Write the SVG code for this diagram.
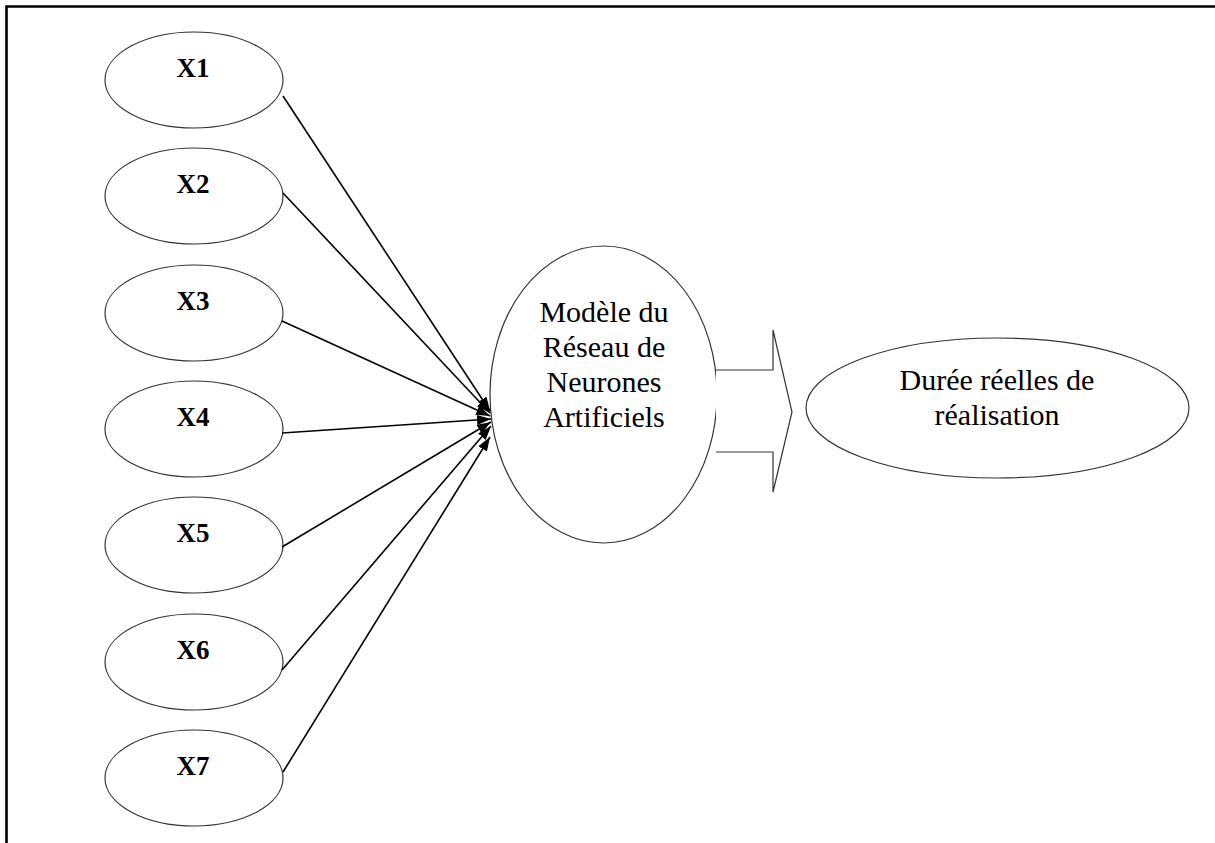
<svg xmlns="http://www.w3.org/2000/svg" width="1215" height="843" viewBox="0 0 1215 843">
<style>
.e{fill:#fff;stroke:#333;stroke-width:1.2}
.xl{font-family:"Liberation Serif","Times New Roman",Times,serif;font-weight:bold;font-size:27px;text-anchor:middle;fill:#000}
.t{font-family:"Liberation Serif","Times New Roman",Times,serif;font-weight:normal;font-size:30px;text-anchor:middle;fill:#000}
.c{stroke:#000;stroke-width:1.6;fill:none;marker-end:url(#ah)}
</style>
<defs>
<marker id="ah" viewBox="0 0 10 10" refX="10" refY="5" markerWidth="14" markerHeight="10" markerUnits="userSpaceOnUse" orient="auto" preserveAspectRatio="none">
<path d="M0,0 L10,5 L0,10 Z" fill="#000"/>
</marker>
</defs>
<rect width="1215" height="843" fill="#fff"/>
<path d="M6.5,843 V6.5 H1215" fill="none" stroke="#000" stroke-width="2.6"/>
<g id="X1"><ellipse class="e" cx="194" cy="80" rx="89" ry="48"/><text class="xl" x="193" y="77">X1</text></g>
<g id="X2"><ellipse class="e" cx="194" cy="196" rx="89" ry="48"/><text class="xl" x="193" y="193">X2</text></g>
<g id="X3"><ellipse class="e" cx="194" cy="313" rx="89" ry="48"/><text class="xl" x="193" y="310">X3</text></g>
<g id="X4"><ellipse class="e" cx="194" cy="429" rx="89" ry="48"/><text class="xl" x="193" y="426">X4</text></g>
<g id="X5"><ellipse class="e" cx="194" cy="545" rx="89" ry="48"/><text class="xl" x="193" y="542">X5</text></g>
<g id="X6"><ellipse class="e" cx="194" cy="662" rx="89" ry="48"/><text class="xl" x="193" y="659">X6</text></g>
<g id="X7"><ellipse class="e" cx="194" cy="778" rx="89" ry="48"/><text class="xl" x="193" y="775">X7</text></g>
<g id="model"><ellipse class="e" cx="603.5" cy="394.5" rx="113.5" ry="148.5"/>
<text class="t" x="604" y="322">Modèle du</text>
<text class="t" x="604" y="357">Réseau de</text>
<text class="t" x="604" y="392">Neurones</text>
<text class="t" x="604" y="427">Artificiels</text></g>
<g id="output"><ellipse class="e" cx="997.5" cy="408" rx="191.5" ry="70"/>
<text class="t" x="997" y="390">Durée réelles de</text>
<text class="t" x="997" y="425">réalisation</text></g>
<g id="connectors">
<line class="c" x1="283" y1="96" x2="490" y2="411"/>
<line class="c" x1="283" y1="193" x2="490" y2="413"/>
<line class="c" x1="282" y1="321" x2="490" y2="416"/>
<line class="c" x1="282" y1="433" x2="491" y2="419"/>
<line class="c" x1="282" y1="547" x2="491" y2="422"/>
<line class="c" x1="282" y1="670" x2="491" y2="426"/>
<line class="c" x1="283" y1="772" x2="490" y2="437"/>
<path id="bigarrow" d="M716,370 H773 V330 L792,412 L773,492 V452 H716" fill="#fff" stroke="#333" stroke-width="1.2"/>
</g>
</svg>
